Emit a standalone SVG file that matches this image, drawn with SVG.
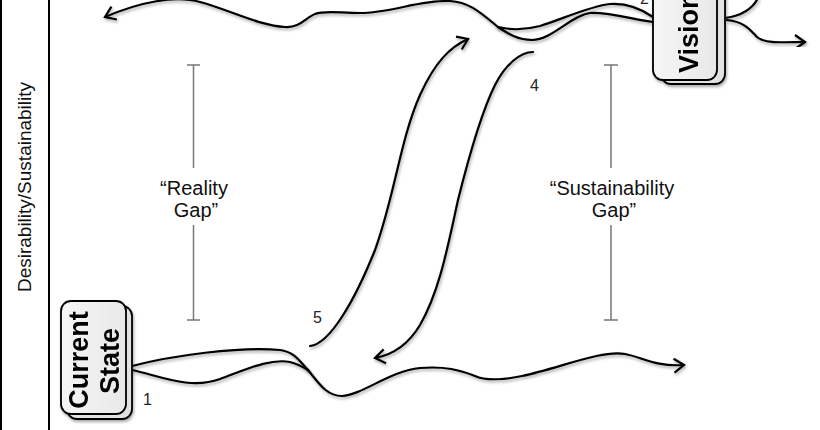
<svg xmlns="http://www.w3.org/2000/svg" width="820" height="430" viewBox="0 0 820 430">
<style>
.frame{stroke:#000;stroke-width:2;fill:none}
.curve{stroke:#000;stroke-width:2.2;fill:none;stroke-linecap:round;stroke-linejoin:round;filter:url(#sh)}
.bar{stroke:#777;stroke-width:1.5;fill:none}
.card{fill:url(#cg);stroke:#000;stroke-width:1.8}
.back{fill:#e2e2e2;stroke:#000;stroke-width:1.8}
.lbl{font-family:"Liberation Sans",Arial,sans-serif;font-size:20px;fill:#111}
.num{font-family:"Liberation Sans",Arial,sans-serif;font-size:16px;fill:#222}
.box{font-family:"Liberation Sans",Arial,sans-serif;font-size:27px;font-weight:bold;fill:#000}
.axis{font-family:"Liberation Sans",Arial,sans-serif;font-size:19px;fill:#111}
</style>
<defs>
<linearGradient id="cg" x1="0" y1="0" x2="1" y2="0">
<stop offset="0" stop-color="#f6f6f6"/>
<stop offset="1" stop-color="#e8e8e8"/>
</linearGradient>
<filter id="sh" x="-20%" y="-20%" width="140%" height="140%">
<feDropShadow dx="1" dy="2" stdDeviation="1.5" flood-color="#000" flood-opacity="0.35"/>
</filter>
<marker id="ah" markerWidth="20" markerHeight="20" refX="0" refY="0" viewBox="-12 -10 14 20" orient="auto" markerUnits="userSpaceOnUse">
<path d="M-10,-7 L0,0 L-10,7" fill="none" stroke="#000" stroke-width="2.2" stroke-linejoin="miter"/>
</marker>
</defs>
<rect width="820" height="430" fill="#fff"/>
<g id="axis">
<line class="frame" x1="1" y1="0" x2="1" y2="430"/>
<line class="frame" x1="49" y1="0" x2="49" y2="430"/>
<text class="axis" transform="translate(31,187) rotate(-90)" text-anchor="middle">Desirability/Sustainability</text>
</g>
<g id="reality-gap">
<path class="bar" d="M187,65 H200 M193.5,65 V168 M193.5,225 V320 M187,320 H200"/>
<text class="lbl" x="194" y="195" text-anchor="middle">“Reality</text>
<text class="lbl" x="196" y="217" text-anchor="middle">Gap”</text>
</g>
<g id="sustainability-gap">
<path class="bar" d="M604,65 H618 M611,65 V168 M611,225 V320 M604,320 H618"/>
<text class="lbl" x="612" y="195" text-anchor="middle">“Sustainability</text>
<text class="lbl" x="614" y="217" text-anchor="middle">Gap”</text>
</g>
<g id="connectors">
<path class="curve" d="M132,366 C170,356 240,346 280,350 C295,352 300,362 308,370"/>
<path class="curve" d="M132,370 C160,376 190,390 220,379 C245,370 270,358 290,362 C298,364 303,367 308,370"/>
<path class="curve" marker-end="url(#ah)" d="M308,370 C318,382 326,396 342,396 C362,395 390,371 420,368 C445,366 460,370 475,376 C486,381 502,380 522,376 C560,368 600,350 625,354 C642,357 655,367 684,365"/>
<path class="curve" marker-end="url(#ah)" d="M310,346 C330,344 355,300 375,250 C395,195 400,140 420,95 C435,62 450,47 468,39"/>
<path class="curve" marker-end="url(#ah)" d="M533,52 C520,52 505,65 495,85 C480,115 468,160 458,200 C448,245 440,290 420,325 C408,345 392,355 375,358"/>
<path class="curve" d="M653,17 C640,8 625,3 610,4 C590,6 560,20 540,26 C525,30 510,30 498,27"/>
<path class="curve" d="M653,22 C635,20 610,12 590,13 C570,16 552,40 532,40 C516,40 506,32 498,27"/>
<path class="curve" marker-end="url(#ah)" d="M498,27 C482,14 470,2 450,1 C420,0 390,13 360,13 C340,13 325,10 315,14 C305,18 300,28 285,27 C260,26 230,10 200,2 C175,-5 140,2 105,17"/>
<path class="curve" d="M725,18 C740,16 752,10 758,-2"/>
<path class="curve" marker-end="url(#ah)" d="M727,20 C745,22 750,30 757,37 C765,44 785,42 805,42"/>
</g>
<g id="current-state" filter="url(#sh)">
<rect class="back" x="67" y="306" width="65" height="113" rx="10"/>
<rect class="card" x="61" y="301" width="65" height="113" rx="10"/>
<text class="box" transform="translate(88,360) rotate(-90)" text-anchor="middle">Current</text>
<text class="box" transform="translate(119,361) rotate(-90)" text-anchor="middle">State</text>
</g>
<g id="vision" filter="url(#sh)">
<rect class="back" x="661" y="-35" width="64" height="119" rx="10"/>
<rect class="card" x="653" y="-40" width="64" height="120" rx="10"/>
<text class="box" transform="translate(698,73) rotate(-90)">Vision</text>
</g>
<g id="labels">
<text class="num" x="143" y="405">1</text>
<text class="num" x="640" y="4">2</text>
<text class="num" x="530" y="91">4</text>
<text class="num" x="313" y="323">5</text>
</g>
</svg>
